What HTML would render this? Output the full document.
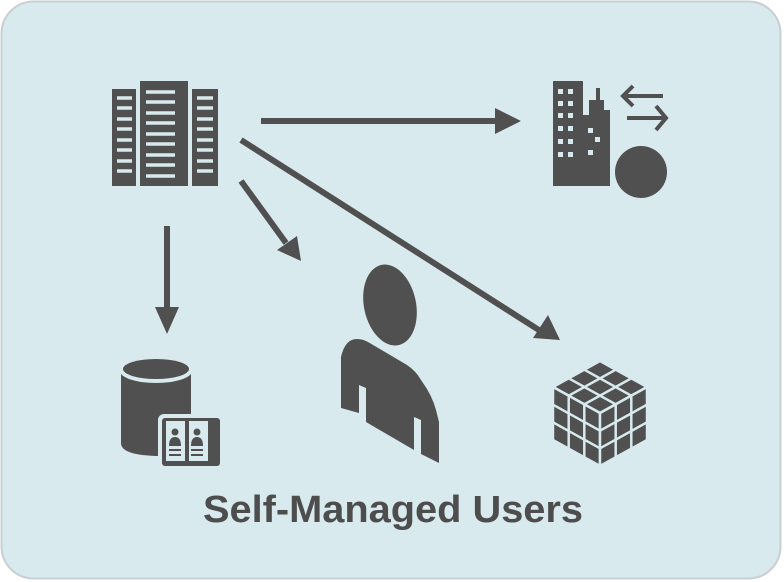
<!DOCTYPE html>
<html><head><style>
html,body{margin:0;padding:0;background:#fff;}
svg{display:block;}
</style></head><body>
<svg width="784" height="582" viewBox="0 0 784 582" xmlns="http://www.w3.org/2000/svg">
<rect x="1.5" y="1.5" width="779" height="577" rx="32" fill="#d8eaee" stroke="#c8d0d3" stroke-width="2"/>
<g fill="#505050" stroke="none">
<rect x="112" y="89" width="24" height="97"/>
<rect x="140" y="81" width="48" height="105"/>
<rect x="192" y="89" width="26" height="97"/>
</g>
<g stroke="#d8eaee" stroke-width="3.5">
<path d="M117 98h15M117 108h15M117 119h15M117 129h15M117 140h15M117 150h15M117 161h15M117 171h15"/>
<path d="M146 92h29M146 102h29M146 113h29M146 123h29M146 134h29M146 144h29M146 155h29M146 165h29M146 176h29"/>
<path d="M197 98h16M197 108h16M197 119h16M197 129h16M197 140h16M197 150h16M197 161h16M197 171h16"/>
</g>
<g stroke="#505050" stroke-width="6" fill="none">
<line x1="261" y1="121" x2="498" y2="121"/>
<line x1="241" y1="140" x2="542" y2="332"/>
<line x1="241" y1="181" x2="286" y2="243"/>
<line x1="167" y1="226" x2="167" y2="310"/>
</g>
<g fill="#505050">
<polygon points="521,121 495,108 495,134"/>
<polygon points="560,340 548,315 533,338"/>
<polygon points="301,261 297,236 277,250"/>
<polygon points="167,334 155,307 179,307"/>
</g>
<g fill="#505050">
<rect x="553" y="81" width="30" height="105"/>
<polygon points="583,186 583,115 589,115 589,100 596,100 596,88 600,88 600,100 604,100 604,110 610,110 610,186"/>
<circle cx="641" cy="172" r="28" fill="#d8eaee"/>
<circle cx="641" cy="172" r="26"/>
</g>
<g fill="#d8eaee">
<rect x="558" y="89" width="5" height="5"/><rect x="568" y="89" width="5" height="5"/>
<rect x="558" y="101" width="5" height="5"/><rect x="568" y="101" width="5" height="5"/>
<rect x="558" y="113" width="5" height="5"/><rect x="568" y="113" width="5" height="5"/>
<rect x="558" y="126" width="5" height="5"/><rect x="568" y="126" width="5" height="5"/>
<rect x="558" y="139" width="5" height="5"/><rect x="568" y="139" width="5" height="5"/>
<rect x="558" y="152" width="5" height="5"/><rect x="568" y="152" width="5" height="5"/>
<rect x="588" y="128" width="5" height="5"/><rect x="595" y="137" width="5" height="5"/><rect x="588" y="150" width="5" height="5"/>
</g>
<g stroke="#505050" stroke-width="4" fill="none">
<path d="M623 96h40M633 86l-10 10 10 10"/>
<path d="M627 118h38M656 106l10 12-10 12"/>
</g>
<!-- person -->
<g fill="#505050">
<ellipse cx="390" cy="305" rx="26" ry="41" transform="rotate(-12 390 305)"/>
<path d="M341 408 L341 357 Q345 339 357 339 Q363 339 368 342 L407 365 Q416 371 421 380 Q432 395 436 410 L439 422 L439 463 L421 454 L421 420 L414 417 L414 450 L366 422 L366 388 L359 385 L359 413 Z"/>
</g>
<g fill="#505050">
<path d="M121 371 L121 443 Q121 455 156 456 Q191 455 191 443 L191 371 Z"/>
<ellipse cx="156" cy="371" rx="36" ry="12" fill="#d8eaee"/>
<ellipse cx="156" cy="369" rx="33" ry="10"/>
<rect x="158" y="414" width="66" height="55" rx="6" fill="#d8eaee"/>
<rect x="162" y="418" width="58" height="48" rx="3"/>
<rect x="166" y="421" width="19" height="40" fill="#d8eaee"/>
<rect x="189" y="421" width="19" height="40" fill="#d8eaee"/>
<circle cx="175" cy="432" r="3.5"/><path d="M169 446 Q169 437 175 437 Q181 437 181 446Z"/>
<circle cx="197" cy="432" r="3.5"/><path d="M191 446 Q191 437 197 437 Q203 437 203 446Z"/>
<rect x="169" y="449" width="12" height="2"/><rect x="169" y="454" width="12" height="2"/>
<rect x="191" y="449" width="12" height="2"/><rect x="191" y="454" width="12" height="2"/>
</g>
<g fill="#505050" stroke="#d8eaee" stroke-width="2.5" stroke-linejoin="round">
<polygon points="600,361 647,387 600,413 553,387"/>
<polygon points="553,387 600,413 600,466 553,440"/>
<polygon points="647,387 600,413 600,466 647,440"/>
</g>
<g stroke="#d8eaee" stroke-width="2.5" fill="none">
<path d="M584.3,369.7 L631.3,395.7 M568.7,378.3 L615.7,404.3 M615.7,369.7 L568.7,395.7 M631.3,378.3 L584.3,404.3"/>
<path d="M553,404.7 L600,430.7 M553,422.3 L600,448.3 M568.7,395.7 L568.7,448.7 M584.3,404.3 L584.3,457.3"/>
<path d="M647,404.7 L600,430.7 M647,422.3 L600,448.3 M631.3,395.7 L631.3,448.7 M615.7,404.3 L615.7,457.3"/>
</g>
<text x="203" y="522" textLength="380" lengthAdjust="spacingAndGlyphs" font-family="Liberation Sans, Arial, sans-serif" font-weight="bold" font-size="38" fill="#4d4d4d">Self-Managed Users</text>
</svg>
</body></html>
